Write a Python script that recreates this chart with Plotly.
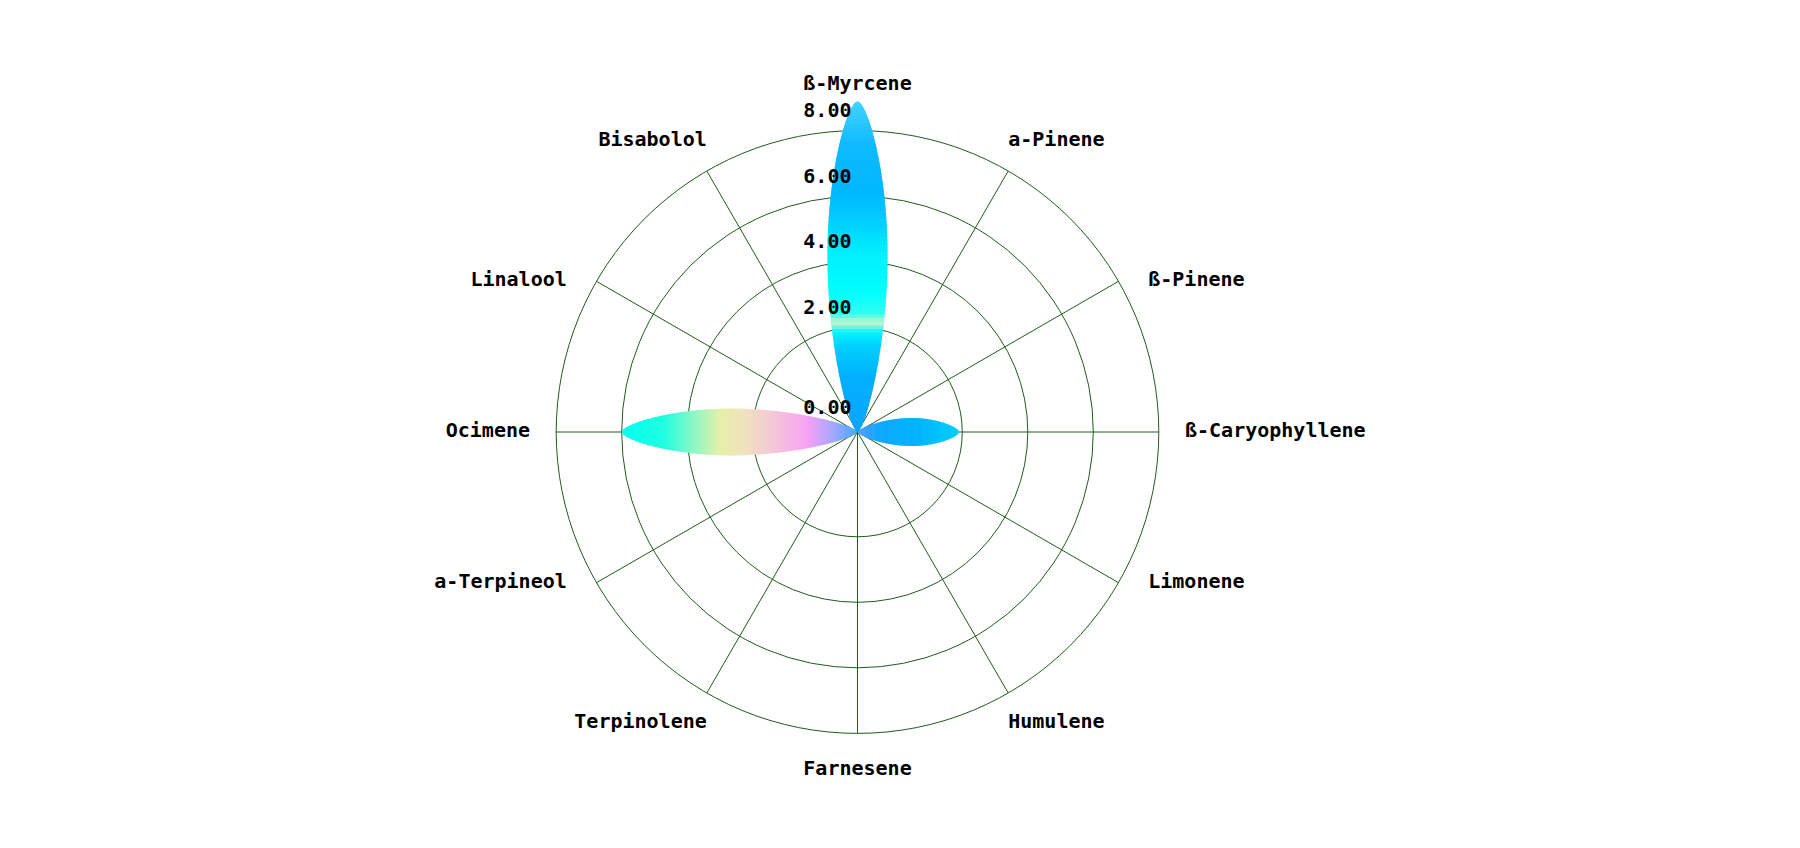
import numpy as np
import plotly.graph_objects as go

# dados do gráfico
categorias = ["ß-Myrcene", "a-Pinene", "ß-Pinene", "ß-Caryophyllene", "Limonene", "Humulene",
              "Farnesene", "Terpinolene", "a-Terpineol", "Ocimene", "Linalool", "Bisabolol"]
valores = [8.9, 0, 0, 1.9, 0, 0, 0, 0, 0, 6.0, 0, 0]
ticks_radiais = [0, 2, 4, 6, 8]
rotulos_radiais = ["0.00", "2.00", "4.00", "6.00", "8.00"]

# estilo
R0 = -1.2          # valor radial no centro
RMAX = 9.3
PX_POR_UNIDADE = 32.75
CENTRO = (849.5, 424)  # px (x a partir da esquerda, y a partir de baixo)
LARGURA, ALTURA = 1800, 848
VERDE = "#1f5c1f"
FONTE = dict(family="DejaVu Sans Mono", size=20, color="black", weight="bold")

# gradientes das pétalas (t = fração do comprimento, a partir do centro)
gradientes = {
    "ß-Myrcene": [(0.0, "#10a4ff"), (0.17, "#00b0ff"), (0.26, "#00d0ff"), (0.30, "#00f4ff"),
                  (0.33, "#c4f4c8"), (0.36, "#30fff0"), (0.42, "#00ffff"), (0.54, "#00f0ff"),
                  (0.62, "#00d4ff"), (0.72, "#00b8ff"), (0.87, "#10baff"), (1.0, "#44d4ff")],
    "Ocimene": [(0.0, "#40a8ff"), (0.10, "#a0a8ff"), (0.21, "#f8a0f4"), (0.36, "#f4c8d8"),
                (0.47, "#f0e0c0"), (0.58, "#e8f0a8"), (0.71, "#80f8c8"), (0.82, "#20ffe0"),
                (1.0, "#00fff0")],
    "ß-Caryophyllene": [(0.0, "#5a9cff"), (0.2, "#10a8ff"), (0.6, "#00b4ff"), (1.0, "#00d0ff")],
}


def hex_rgb(h):
    h = h.lstrip("#")
    return np.array([int(h[i:i + 2], 16) for i in (0, 2, 4)], dtype=float)


def cor_em(stops, t):
    ts = [s[0] for s in stops]
    rgb = np.array([hex_rgb(s[1]) for s in stops])
    c = [np.interp(t, ts, rgb[:, k]) for k in range(3)]
    return "rgb(%d,%d,%d)" % tuple(int(round(v)) for v in c)


def meia_largura(comp):
    return 0.07 * comp + 0.21


def faixa_petala(theta0, comp, t0, t1):
    ts = np.linspace(max(t0, 0), min(t1, 1), 5)
    w = meia_largura(comp) * np.sin(np.pi * ts ** 1.1) ** 0.6
    s = ts * comp
    xs = np.concatenate([s, s[::-1]])
    ys = np.concatenate([w, -w[::-1]])
    rho = np.hypot(xs, ys)
    phi = theta0 + np.degrees(np.arctan2(ys, xs))
    return R0 + rho, phi


def posicao_rotulo(a):
    c, s = np.cos(np.radians(a)), np.sin(np.radians(a))
    if abs(s) < 0.1:
        return "top center" if c > 0 else "bottom center"
    return "middle right" if s > 0 else "middle left"


angulos = [i * 360 / len(categorias) for i in range(len(categorias))]

fig = go.Figure()

# raios (linhas da grade angular) até o último anel
r_raios, th_raios = [], []
for a in angulos:
    r_raios += [R0, max(ticks_radiais), None]
    th_raios += [a, a, None]
fig.add_trace(go.Scatterpolar(r=r_raios, theta=th_raios, mode="lines",
                              line=dict(color=VERDE, width=1), hoverinfo="skip", showlegend=False))

# pétalas com gradiente (em faixas)
N = 90
ordem = ["Ocimene", "ß-Caryophyllene", "ß-Myrcene"]
for nome in ordem + [c for c in categorias if c not in ordem]:
    i = categorias.index(nome)
    v = valores[i]
    if v <= 0:
        continue
    comp = v - R0
    stops = gradientes.get(nome, [(0, "#00b0ff"), (1, "#00d0ff")])
    for j in range(N):
        t0 = j / N
        t1 = (j + 1.6) / N
        r, th = faixa_petala(angulos[i], comp, t0, t1)
        fig.add_trace(go.Scatterpolar(r=r, theta=th, mode="lines", fill="toself",
                                      fillcolor=cor_em(stops, (j + 0.5) / N),
                                      line=dict(width=0), hoverinfo="skip", showlegend=False))

# rótulos do eixo radial (marcador invisível só para afastar o texto do eixo)
fig.add_trace(go.Scatterpolar(r=[t + (0.07 if t > 0 else 0.0) for t in ticks_radiais],
                              theta=[0] * len(ticks_radiais), mode="markers+text",
                              marker=dict(size=8, opacity=0),
                              text=rotulos_radiais,
                              textposition=["bottom left"] + ["top left"] * (len(ticks_radiais) - 1),
                              textfont=FONTE, cliponaxis=False,
                              hoverinfo="skip", showlegend=False))

# rótulos das categorias
r_rotulo = max(ticks_radiais) + 0.8
pos_rot = [posicao_rotulo(a) for a in angulos]
fig.add_trace(go.Scatterpolar(r=[r_rotulo + (0.3 if p.startswith("top") else 0) for p in pos_rot],
                              theta=[a - 3 * np.sin(np.radians(4 * a)) for a in angulos],
                              mode="text", text=categorias, textposition=pos_rot,
                              textfont=FONTE, cliponaxis=False,
                              hoverinfo="skip", showlegend=False))

raio_px = (RMAX - R0) * PX_POR_UNIDADE
fig.update_layout(
    width=LARGURA, height=ALTURA,
    margin=dict(l=0, r=0, t=0, b=0),
    paper_bgcolor="white",
    showlegend=False,
    polar=dict(
        domain=dict(x=[(CENTRO[0] - raio_px) / LARGURA, (CENTRO[0] + raio_px) / LARGURA],
                    y=[(CENTRO[1] - raio_px) / ALTURA, (CENTRO[1] + raio_px) / ALTURA]),
        bgcolor="white",
        radialaxis=dict(range=[R0, RMAX], tickmode="array",
                        tickvals=[t for t in ticks_radiais if t > 0],
                        showticklabels=False, showline=False, ticks="",
                        gridcolor=VERDE, gridwidth=1),
        angularaxis=dict(direction="clockwise", rotation=90, tickmode="array",
                         tickvals=angulos, showticklabels=False, showgrid=False,
                         showline=False, ticks=""),
    ),
)

fig.write_html("out.html")
